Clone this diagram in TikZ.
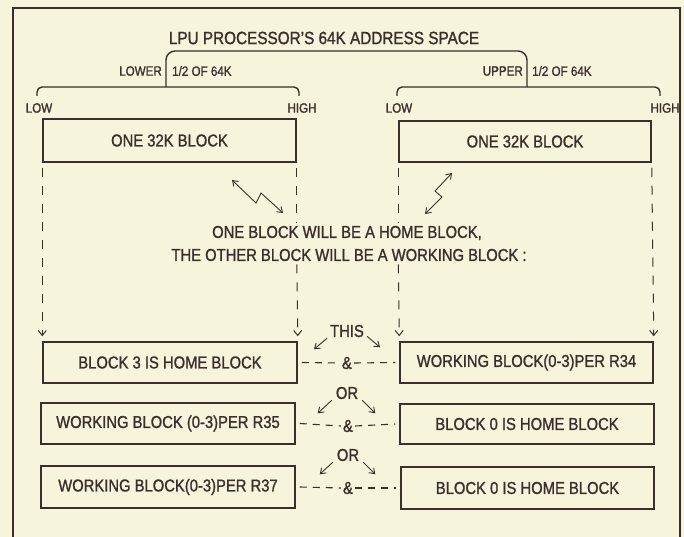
\documentclass[tikz,border=0pt]{standalone}
\usepackage{fontspec}
\setmainfont{Liberation Sans}[FakeStretch=0.86, FakeBold=1.2]
\usetikzlibrary{arrows.meta}
\definecolor{bg}{RGB}{246,244,218}
\definecolor{ink}{RGB}{58,46,46}
\begin{document}
\begin{tikzpicture}[x=1pt,y=-1pt,
  every node/.style={text=ink, inner sep=0pt},
  bigt/.style={font=\fontsize{17.2}{19}\selectfont},
  smallt/.style={font=\fontsize{13.5}{15}\selectfont},
  blk/.style={draw=ink, line width=1.5pt, bigt, minimum height=42pt},
  brk/.style={draw=ink, line width=1.4pt},
  dashl/.style={draw=ink, line width=1pt, dash pattern=on 9pt off 9pt},
  dashv/.style={dashl, -{Straight Barb[length=5pt,width=8pt]}},
  sarr/.style={draw=ink, line width=0.9pt, -{Straight Barb[length=5pt,width=7pt]}},
  zig/.style={draw=ink, line width=0.9pt,
    {Straight Barb[length=5pt,width=7pt]}-{Straight Barb[length=5pt,width=7pt]}},
  ampd/.style={draw=ink, line width=1.1pt, dash pattern=on 7pt off 6pt},
]
\useasboundingbox (0,0) rectangle (684,537);
\fill[bg] (0,0) rectangle (684,537);
% frame
\draw[ink, line width=1.3pt] (13,545) -- (13,8) -- (680,8) -- (680,545);

% title and brackets
\node[font=\fontsize{17.8}{19}\selectfont] (title) at (324,38) {LPU PROCESSOR'S 64K ADDRESS SPACE};
\draw[brk, rounded corners=9pt] (166,87) -- (166,51) -- (527,51) -- (527,87);
\draw[brk, rounded corners=5pt] (37,96) -- (37,87) -- (299,87) -- (299,96);
\draw[brk, rounded corners=5pt] (397,96) -- (397,87) -- (660,87) -- (660,96);
\node[smallt, anchor=east] (lower) at (162,71) {LOWER};
\node[smallt, anchor=west] (lhalf) at (172,71) {1/2 OF 64K};
\node[smallt, anchor=east] (upper) at (523,71) {UPPER};
\node[smallt, anchor=west] (uhalf) at (532,71) {1/2 OF 64K};
\node[smallt] (low1) at (39,108) {LOW};
\node[smallt] (high1) at (302,108) {HIGH};
\node[smallt] (low2) at (399,108) {LOW};
\node[smallt] (high2) at (665,108) {HIGH};

% top blocks
\node[blk, minimum width=253pt, minimum height=43pt] (tl) at (169.5,140.5) {ONE 32K BLOCK};
\node[blk, minimum width=252pt, minimum height=41pt] (tr) at (525,141.5) {ONE 32K BLOCK};

% middle text
\node[bigt, inner xsep=2pt, inner ysep=4pt] (m1) at (347,233) {ONE BLOCK WILL BE A HOME BLOCK,};
\node[bigt, inner xsep=2pt, inner ysep=4pt] (m2) at (349,255) {THE OTHER BLOCK WILL BE A WORKING BLOCK :};

% bottom rows
\node[blk, minimum width=254pt, minimum height=41pt] (r1l) at (170,362.5) {BLOCK 3 IS HOME BLOCK};
\node[blk, minimum width=253pt, minimum height=41pt] (r1r) at (526.5,362.5) {WORKING BLOCK(0-3)PER R34};
\node[blk, minimum width=254pt, minimum height=41pt] (r2l) at (168,423.5) {WORKING BLOCK (0-3)PER R35};
\node[blk, minimum width=254pt, minimum height=40pt] (r2r) at (527,424) {BLOCK 0 IS HOME BLOCK};
\node[blk, minimum width=254pt, minimum height=42pt] (r3l) at (168,487) {WORKING BLOCK(0-3)PER R37};
\node[blk, minimum width=253pt, minimum height=42pt] (r3r) at (527.5,488) {BLOCK 0 IS HOME BLOCK};

% dashed drops: outer ones run straight down
\draw[dashv] ([yshift=-5pt]tl.south west) -- ([yshift=5pt]r1l.north west);
\draw[dashv] ([yshift=-5pt]tr.south east) -- ([yshift=5pt]r1r.north east);
% inner ones break where the middle text crosses them
\coordinate (ia1) at ([yshift=-5pt]tl.south east);
\coordinate (ia2) at ([yshift=-1pt]tl.south east |- m1.north);
\coordinate (ia3) at ([yshift=1pt]tl.south east |- m2.south);
\coordinate (ia4) at ([yshift=5pt]r1l.north east);
\draw[dashl] (ia1) -- (ia2);
\draw[dashv] (ia3) -- (ia4);
\coordinate (ib1) at ([yshift=-5pt]tr.south west);
\coordinate (ib2) at ([yshift=-1pt]tr.south west |- m1.north);
\coordinate (ib3) at ([yshift=1pt]tr.south west |- m2.south);
\coordinate (ib4) at ([yshift=5pt]r1r.north west);
\draw[dashl] (ib1) -- (ib2);
\draw[dashv] (ib3) -- (ib4);

% lightning arrows
\coordinate (za) at (232,180);
\coordinate (zb) at (256,203);
\coordinate (zc) at (261,193);
\coordinate (zd) at (283,213);
\draw[zig] (za) -- (zb) -- (zc) -- (zd);
\coordinate (ya) at (452,173);
\coordinate (yb) at (435,191);
\coordinate (yc) at (442,197);
\coordinate (yd) at (425,214);
\draw[zig] (ya) -- (yb) -- (yc) -- (yd);

% THIS / OR
\node[bigt] (this) at (347,331) {THIS};
\draw[sarr] ([xshift=-3pt,yshift=-1pt]this.south west) -- ++(-13,11);
\draw[sarr] ([xshift=3pt,yshift=1pt]this.south east) -- ++(13,11);
\node[bigt] (or1) at (347,393) {OR};
\draw[sarr] ([xshift=-4pt,yshift=-1pt]or1.south west) -- ++(-14,13);
\draw[sarr] ([xshift=4pt,yshift=-1pt]or1.south east) -- ++(13,13);
\node[bigt] (or2) at (348,455) {OR};
\draw[sarr] ([xshift=-4pt,yshift=-1pt]or2.south west) -- ++(-13,12);
\draw[sarr] ([xshift=4pt,yshift=-1pt]or2.south east) -- ++(12,12);

% & links
\node[bigt] (a1) at (347,363) {\&};
\node[bigt] (a2) at (348,426) {\&};
\node[bigt] (a3) at (348,488) {\&};
\foreach \r/\a in {r1/a1, r2/a2, r3/a3}{
  \draw[ampd] ([xshift=4pt]\r l.east) -- ([xshift=-2pt]\a.west);
  \draw[ampd] ([xshift=2pt]\a.east) -- ([xshift=-4pt]\r r.west);
}
\end{tikzpicture}
\end{document}
